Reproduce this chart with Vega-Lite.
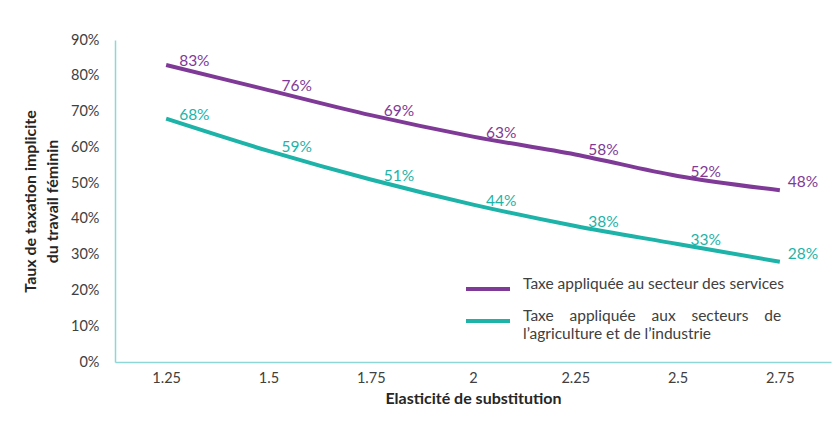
{
  "$schema": "https://vega.github.io/schema/vega-lite/v6.json",
  "width": 716,
  "height": 322,
  "autosize": {"type": "none"},
  "padding": {"left": 115, "top": 40, "right": 7, "bottom": 68},
  "background": "white",
  "config": {
    "view": {"stroke": null},
    "font": "Lato",
    "axis": {"domainColor": "#8fd6d6", "domainWidth": 1.5, "grid": false, "ticks": false, "labelColor": "#404040", "labelFont": "Lato", "labelFontSize": 14.5, "titleFont": "Lato", "titleFontSize": 16, "titleFontWeight": "bold", "titleColor": "#262626"}
  },
  "data": {"values": [
    {"e": "1.25", "s": "Taxe appliquée au secteur des services", "v": 0.83},
    {"e": "1.5", "s": "Taxe appliquée au secteur des services", "v": 0.76},
    {"e": "1.75", "s": "Taxe appliquée au secteur des services", "v": 0.69},
    {"e": "2", "s": "Taxe appliquée au secteur des services", "v": 0.63},
    {"e": "2.25", "s": "Taxe appliquée au secteur des services", "v": 0.58},
    {"e": "2.5", "s": "Taxe appliquée au secteur des services", "v": 0.52},
    {"e": "2.75", "s": "Taxe appliquée au secteur des services", "v": 0.48},
    {"e": "1.25", "s": "Taxe appliquée aux secteurs de l’agriculture et de l’industrie", "v": 0.68},
    {"e": "1.5", "s": "Taxe appliquée aux secteurs de l’agriculture et de l’industrie", "v": 0.59},
    {"e": "1.75", "s": "Taxe appliquée aux secteurs de l’agriculture et de l’industrie", "v": 0.51},
    {"e": "2", "s": "Taxe appliquée aux secteurs de l’agriculture et de l’industrie", "v": 0.44},
    {"e": "2.25", "s": "Taxe appliquée aux secteurs de l’agriculture et de l’industrie", "v": 0.38},
    {"e": "2.5", "s": "Taxe appliquée aux secteurs de l’agriculture et de l’industrie", "v": 0.33},
    {"e": "2.75", "s": "Taxe appliquée aux secteurs de l’agriculture et de l’industrie", "v": 0.28}
  ]},
  "encoding": {
    "x": {"field": "e", "type": "ordinal", "sort": ["1.25", "1.5", "1.75", "2", "2.25", "2.5", "2.75"],
      "scale": {"type": "point", "padding": 0.5},
      "axis": {"title": "Elasticité de substitution", "labelAngle": 0, "labelPadding": 9, "titlePadding": 6}},
    "y": {"field": "v", "type": "quantitative", "scale": {"domain": [0, 0.9]},
      "axis": {"format": ".0%", "values": [0, 0.1, 0.2, 0.3, 0.4, 0.5, 0.6, 0.7, 0.8, 0.9], "labelPadding": 16, "title": ["Taux de taxation implicite", "du travail féminin"], "titlePadding": 10, "titleLineHeight": 22}},
    "color": {"field": "s", "type": "nominal",
      "scale": {"domain": ["Taxe appliquée au secteur des services", "Taxe appliquée aux secteurs de l’agriculture et de l’industrie"], "range": ["#7f3a97", "#1db3a8"]}}
  },
  "layer": [
    {"mark": {"type": "line", "strokeWidth": 4, "interpolate": "catmull-rom"},
      "encoding": {"color": {"field": "s", "type": "nominal",
        "legend": {"title": null, "orient": "none", "legendX": 349, "legendY": 225, "symbolType": "stroke", "symbolSize": 1936, "symbolStrokeWidth": 4, "labelFontSize": 15.5, "labelColor": "#404040", "labelLimit": 400, "labelOffset": 11, "rowPadding": -9, "labelBaseline": "alphabetic", "labelLineHeight": 20,
          "labelExpr": "datum.label == 'Taxe appliquée au secteur des services' ? datum.label : ['Taxe\u00a0\u00a0\u00a0 appliquée\u00a0\u00a0\u00a0 aux\u00a0\u00a0\u00a0 secteurs\u00a0\u00a0\u00a0 de', 'l’agriculture et de l’industrie']"}}}},
    {"transform": [{"filter": "datum.e != '2.75'"}],
      "mark": {"type": "text", "align": "left", "baseline": "middle", "dx": 13, "dy": -4, "fontSize": 15.5, "font": "Lato"},
      "encoding": {"text": {"field": "v", "type": "quantitative", "format": ".0%"}}},
    {"transform": [{"filter": "datum.e == '2.75'"}],
      "mark": {"type": "text", "align": "left", "baseline": "middle", "dx": 8, "dy": -8, "fontSize": 15.5, "font": "Lato"},
      "encoding": {"text": {"field": "v", "type": "quantitative", "format": ".0%"}}}
  ]
}
